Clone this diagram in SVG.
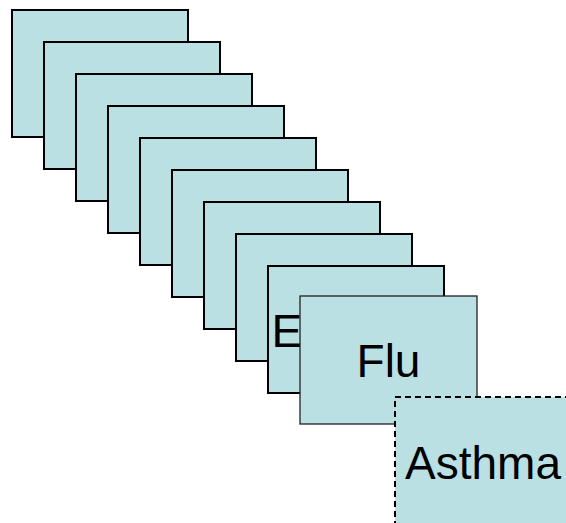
<svg xmlns="http://www.w3.org/2000/svg" width="566" height="523" viewBox="0 0 566 523">
<style>
.card{fill:#BBE0E3;stroke:#000;stroke-width:2}
.front{fill:#BBE0E3;stroke:#222;stroke-width:1.3}
.dash{fill:#BBE0E3;stroke:#000;stroke-width:2;stroke-dasharray:6 4}
.lbl{font-family:"Liberation Sans",Arial,sans-serif;font-size:46px;fill:#000}
</style>
<rect width="566" height="523" fill="#fff"/>
<g id="card1"><rect class="card" x="12" y="10" width="176" height="127"/></g>
<g id="card2"><rect class="card" x="44" y="42" width="176" height="127"/></g>
<g id="card3"><rect class="card" x="76" y="74" width="176" height="127"/></g>
<g id="card4"><rect class="card" x="108" y="106" width="176" height="127"/></g>
<g id="card5"><rect class="card" x="140" y="138" width="176" height="127"/></g>
<g id="card6"><rect class="card" x="172" y="170" width="176" height="127"/></g>
<g id="card7"><rect class="card" x="204" y="202" width="176" height="127"/></g>
<g id="card8"><rect class="card" x="236" y="234" width="176" height="127"/></g>
<g id="card9"><rect class="card" x="268" y="266" width="176" height="127"/><text class="lbl" x="271.5" y="347">E</text></g>
<g id="flu"><rect class="front" x="300" y="296" width="177" height="128"/><text class="lbl" x="388.5" y="377" text-anchor="middle">Flu</text></g>
<g id="asthma"><rect class="dash" x="395" y="397" width="177" height="128"/><text class="lbl" x="483" y="479" text-anchor="middle">Asthma</text></g>
<g id="connectors"></g>
</svg>
